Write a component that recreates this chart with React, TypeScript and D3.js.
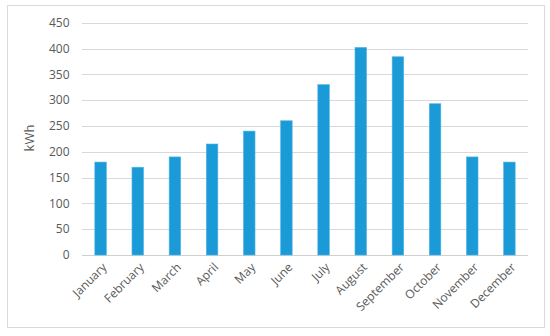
import * as d3 from 'd3';
import { useRef, useEffect } from 'react';

const months = ['January', 'February', 'March', 'April', 'May', 'June', 'July', 'August', 'September', 'October', 'November', 'December'];
const kwh = [180, 170, 190, 215, 240, 260, 330, 402, 384, 293, 190, 180];
const yTicks = [0, 50, 100, 150, 200, 250, 300, 350, 400, 450];

const App = () => {
  const svgRef = useRef<SVGSVGElement>(null);

  useEffect(() => {
    const svg = d3.select(svgRef.current);
    const width = 550;
    const height = 336;
    const margin = { top: 22.7, right: 22, bottom: 81, left: 82 };
    const font = '"Open Sans", "Noto Sans", sans-serif';

    svg.attr('width', width).attr('height', height);
    svg.selectAll('*').remove();

    // chart border
    svg.append('rect')
      .attr('x', 7.5).attr('y', 5.5)
      .attr('width', 537).attr('height', 322)
      .attr('fill', '#fff')
      .attr('stroke', '#d9d9d9');

    const x = d3.scaleBand()
      .domain(months)
      .range([margin.left, width - margin.right])
      .paddingInner(0.69)
      .paddingOuter(0.345);

    const y = d3.scaleLinear()
      .domain([0, 450])
      .range([height - margin.bottom, margin.top]);

    // gridlines
    svg.append('g')
      .selectAll('line')
      .data(yTicks)
      .enter().append('line')
      .attr('x1', margin.left)
      .attr('x2', width - margin.right)
      .attr('y1', d => Math.round(y(d)) + 0.5)
      .attr('y2', d => Math.round(y(d)) + 0.5)
      .attr('stroke', d => d === 0 ? '#d0d0d0' : '#d9d9d9')
      .attr('stroke-width', 1);

    // y tick labels
    svg.append('g')
      .selectAll('text')
      .data(yTicks)
      .enter().append('text')
      .attr('x', 69.5)
      .attr('y', d => y(d))
      .attr('dy', '0.35em')
      .attr('text-anchor', 'end')
      .style('font-family', font)
      .style('font-size', '12px')
      .attr('fill', '#595959')
      .text(d => d);

    // bars
    svg.append('g')
      .selectAll('rect')
      .data(kwh)
      .enter().append('rect')
      .attr('x', (d, i) => x(months[i]))
      .attr('y', d => y(d))
      .attr('width', x.bandwidth())
      .attr('height', d => y(0) - y(d))
      .attr('fill', '#1a9bd7')
      .attr('stroke', '#4fb3e3')
      .attr('stroke-width', 0.6);

    // x labels
    svg.append('g')
      .selectAll('text')
      .data(months)
      .enter().append('text')
      .attr('transform', d => `translate(${x(d) + x.bandwidth() / 2 + 4},${y(0) + 10}) rotate(-45)`)
      .attr('text-anchor', 'end')
      .attr('dy', '0.35em')
      .style('font-family', font)
      .style('font-size', '12px')
      .attr('fill', '#595959')
      .text(d => d);

    // y axis title
    svg.append('text')
      .attr('transform', `translate(34,138) rotate(-90)`)
      .attr('text-anchor', 'middle')
      .style('font-family', font)
      .style('font-size', '13px')
      .attr('fill', '#595959')
      .text('kWh');
  }, []);

  return (
    <div style={{ position: 'absolute', left: 0, top: 0 }}>
      <svg ref={svgRef} style={{ display: 'block' }}></svg>
    </div>
  );
};

export default App;
